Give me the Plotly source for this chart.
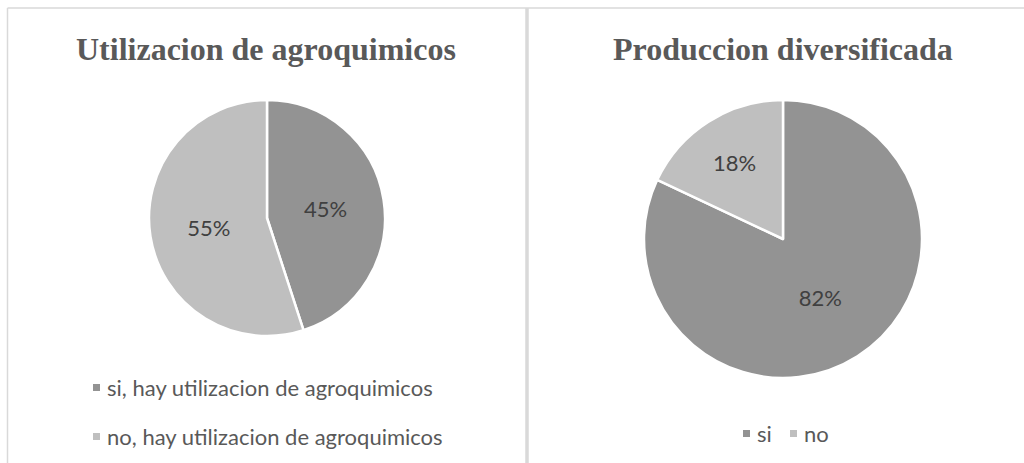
import plotly.graph_objects as go

# data
agro_labels = ["si, hay utilizacion de agroquimicos", "no, hay utilizacion de agroquimicos"]
agro_values = [45, 55]
prod_labels = ["si", "no"]
prod_values = [82, 18]

titles = ["Utilizacion de agroquimicos", "Produccion diversificada"]
slice_colors = ["#939393", "#bfbfbf"]

W, H = 1024, 463
TEXT = "#595959"
BORDER = "#d9d9d9"
LEG_FONT = dict(family="Lato", size=22, color=TEXT)


def px_x(x):
    return x / W


def px_y(y):
    return 1 - y / H


fig = go.Figure()

fig.add_trace(go.Pie(
    labels=agro_labels, values=agro_values,
    sort=False, direction="clockwise", rotation=0,
    marker=dict(colors=slice_colors, line=dict(color="white", width=2.5)),
    textinfo="percent", textposition="inside", insidetextorientation="horizontal",
    textfont=dict(family="Lato", size=22, color="#404040"),
    domain=dict(x=[px_x(149), px_x(385)], y=[px_y(336), px_y(100)]),
))

fig.add_trace(go.Pie(
    labels=prod_labels, values=prod_values,
    sort=False, direction="clockwise", rotation=0,
    marker=dict(colors=slice_colors, line=dict(color="white", width=2.5)),
    textinfo="percent", textposition="inside", insidetextorientation="horizontal",
    textfont=dict(family="Lato", size=22, color="#404040"),
    domain=dict(x=[px_x(644), px_x(922)], y=[px_y(378), px_y(100)]),
))

annotations = []
shapes = []

# chart titles
for txt, cx in zip(titles, [266, 783]):
    annotations.append(dict(
        text="<b>%s</b>" % txt, x=px_x(cx), y=px_y(49), xref="paper", yref="paper",
        xanchor="center", yanchor="middle", showarrow=False,
        font=dict(family="Liberation Serif", size=32, color=TEXT),
    ))


def legend_item(label, color, mx, yc):
    # small square marker + label, Excel style
    shapes.append(dict(
        type="rect", xref="paper", yref="paper",
        x0=px_x(mx), x1=px_x(mx + 7), y0=px_y(yc + 4), y1=px_y(yc - 3),
        fillcolor=color, line=dict(width=0),
    ))
    annotations.append(dict(
        text=label, x=px_x(mx + 12), y=px_y(yc), xref="paper", yref="paper",
        xanchor="left", yanchor="middle", showarrow=False, font=LEG_FONT,
    ))


# left legend: vertical, wide spacing
for i, (lab, col) in enumerate(zip(agro_labels, slice_colors)):
    legend_item(lab, col, 93, 387 + i * 49)

# right legend: horizontal
for lab, col, mx in zip(prod_labels, slice_colors, [743, 790]):
    legend_item(lab, col, mx, 433)

# panel borders
shapes += [
    dict(type="line", xref="paper", yref="paper", x0=px_x(7.5), x1=px_x(7.5), y0=0, y1=px_y(8),
         line=dict(color=BORDER, width=1.5)),
    dict(type="line", xref="paper", yref="paper", x0=px_x(7.5), x1=1, y0=px_y(8), y1=px_y(8),
         line=dict(color=BORDER, width=1.5)),
    dict(type="line", xref="paper", yref="paper", x0=px_x(527), x1=px_x(527), y0=0, y1=px_y(8),
         line=dict(color=BORDER, width=3.5)),
]

fig.update_layout(
    width=W, height=H,
    margin=dict(l=0, r=0, t=0, b=0),
    paper_bgcolor="white", plot_bgcolor="white",
    annotations=annotations, shapes=shapes,
    showlegend=False,
)

fig.write_html("out.html", config={"displayModeBar": False},
               post_script="document.body.style.margin='0';")
